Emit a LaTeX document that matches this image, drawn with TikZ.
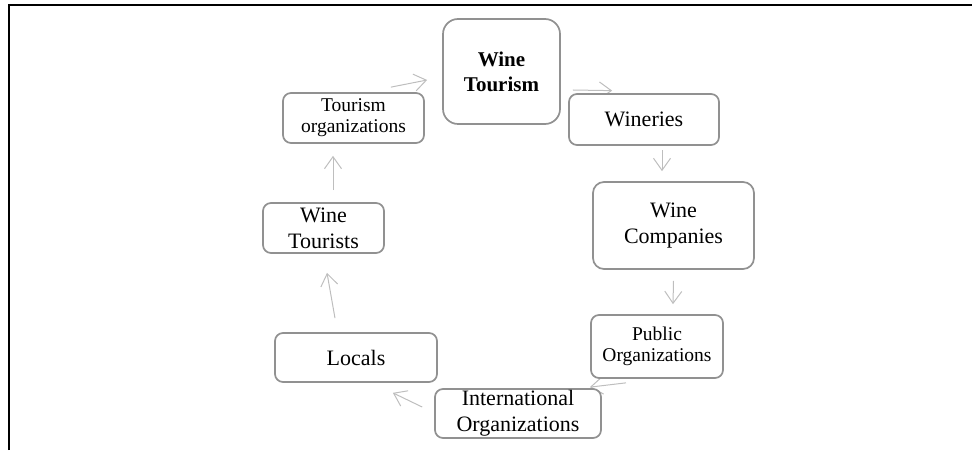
\documentclass[tikz,border=0pt]{standalone}
\usepackage{fontspec}
\setmainfont{Liberation Serif}
\usetikzlibrary{arrows.meta,backgrounds}
\definecolor{boxgray}{RGB}{145,145,145}
\definecolor{arrowgray}{RGB}{190,190,190}

\begin{document}
\begin{tikzpicture}[x=1pt,y=1pt,
    box/.style={draw=boxgray,line width=1.7pt,fill=white,rounded corners=8pt,
      align=center,inner sep=0pt,font=\fontsize{22}{26}\selectfont},
    small/.style={font=\fontsize{19.5}{21}\selectfont},
    link/.style={draw=arrowgray,line width=1pt,-{Straight Barb[length=12pt,width=17pt]}}]
  \useasboundingbox (0,0) rectangle (972,450);
  % frame of the table cell
  \draw[line width=2pt] (9,0) |- (972,445);

  \node[box,rounded corners=15pt,minimum width=117pt,minimum height=105pt,
        font=\bfseries\fontsize{21}{25}\selectfont] (tourism) at (501.5,378.5) {Wine\\Tourism};
  \node[box,minimum width=150pt,minimum height=51pt] (wineries) at (644,330.5) {Wineries};
  \node[box,rounded corners=11pt,minimum width=161pt,minimum height=87pt] (companies) at (673.5,224.5) {Wine\\Companies};
  \node[box,small,minimum width=132pt,minimum height=63pt] (public) at (657,103.5) {Public\\Organizations};
  \node[box,minimum width=166pt,minimum height=49pt] (intl) at (518,36.5) {International\\Organizations};
  \node[box,minimum width=162pt,minimum height=49pt] (locals) at (356,92.5) {Locals};
  \node[box,minimum width=121pt,minimum height=50pt] (tourists) at (323.5,222) {Wine\\Tourists};
  \node[box,small,minimum width=141pt,minimum height=50pt] (orgs) at (353.5,332) {Tourism\\organizations};

  % cycle arrows, behind the boxes
  \begin{scope}[on background layer]
    \foreach \a/\ax/\ay/\b/\bx/\by in {
        orgs.north east/-34/5/tourism.west/-15/-8.5,
        tourism.east/12/-18.5/wineries.north west/44/2.5,
        wineries.south/18/-4.5/companies.north/-11.5/10,
        companies.south/0/-11/public.north/16/10,
        public.south/-31/-4/intl.north east/-12/1,
        intl.west/-12/6.5/locals.south east/-45/-10,
        locals.north/-21/14/tourists.south/3.5/-19,
        tourists.north/9.5/12/orgs.south/-20.5/-12}
    {
      \draw[link] ([shift={(\ax,\ay)}]\a) -- ([shift={(\bx,\by)}]\b);
    }
  \end{scope}
\end{tikzpicture}
\end{document}
